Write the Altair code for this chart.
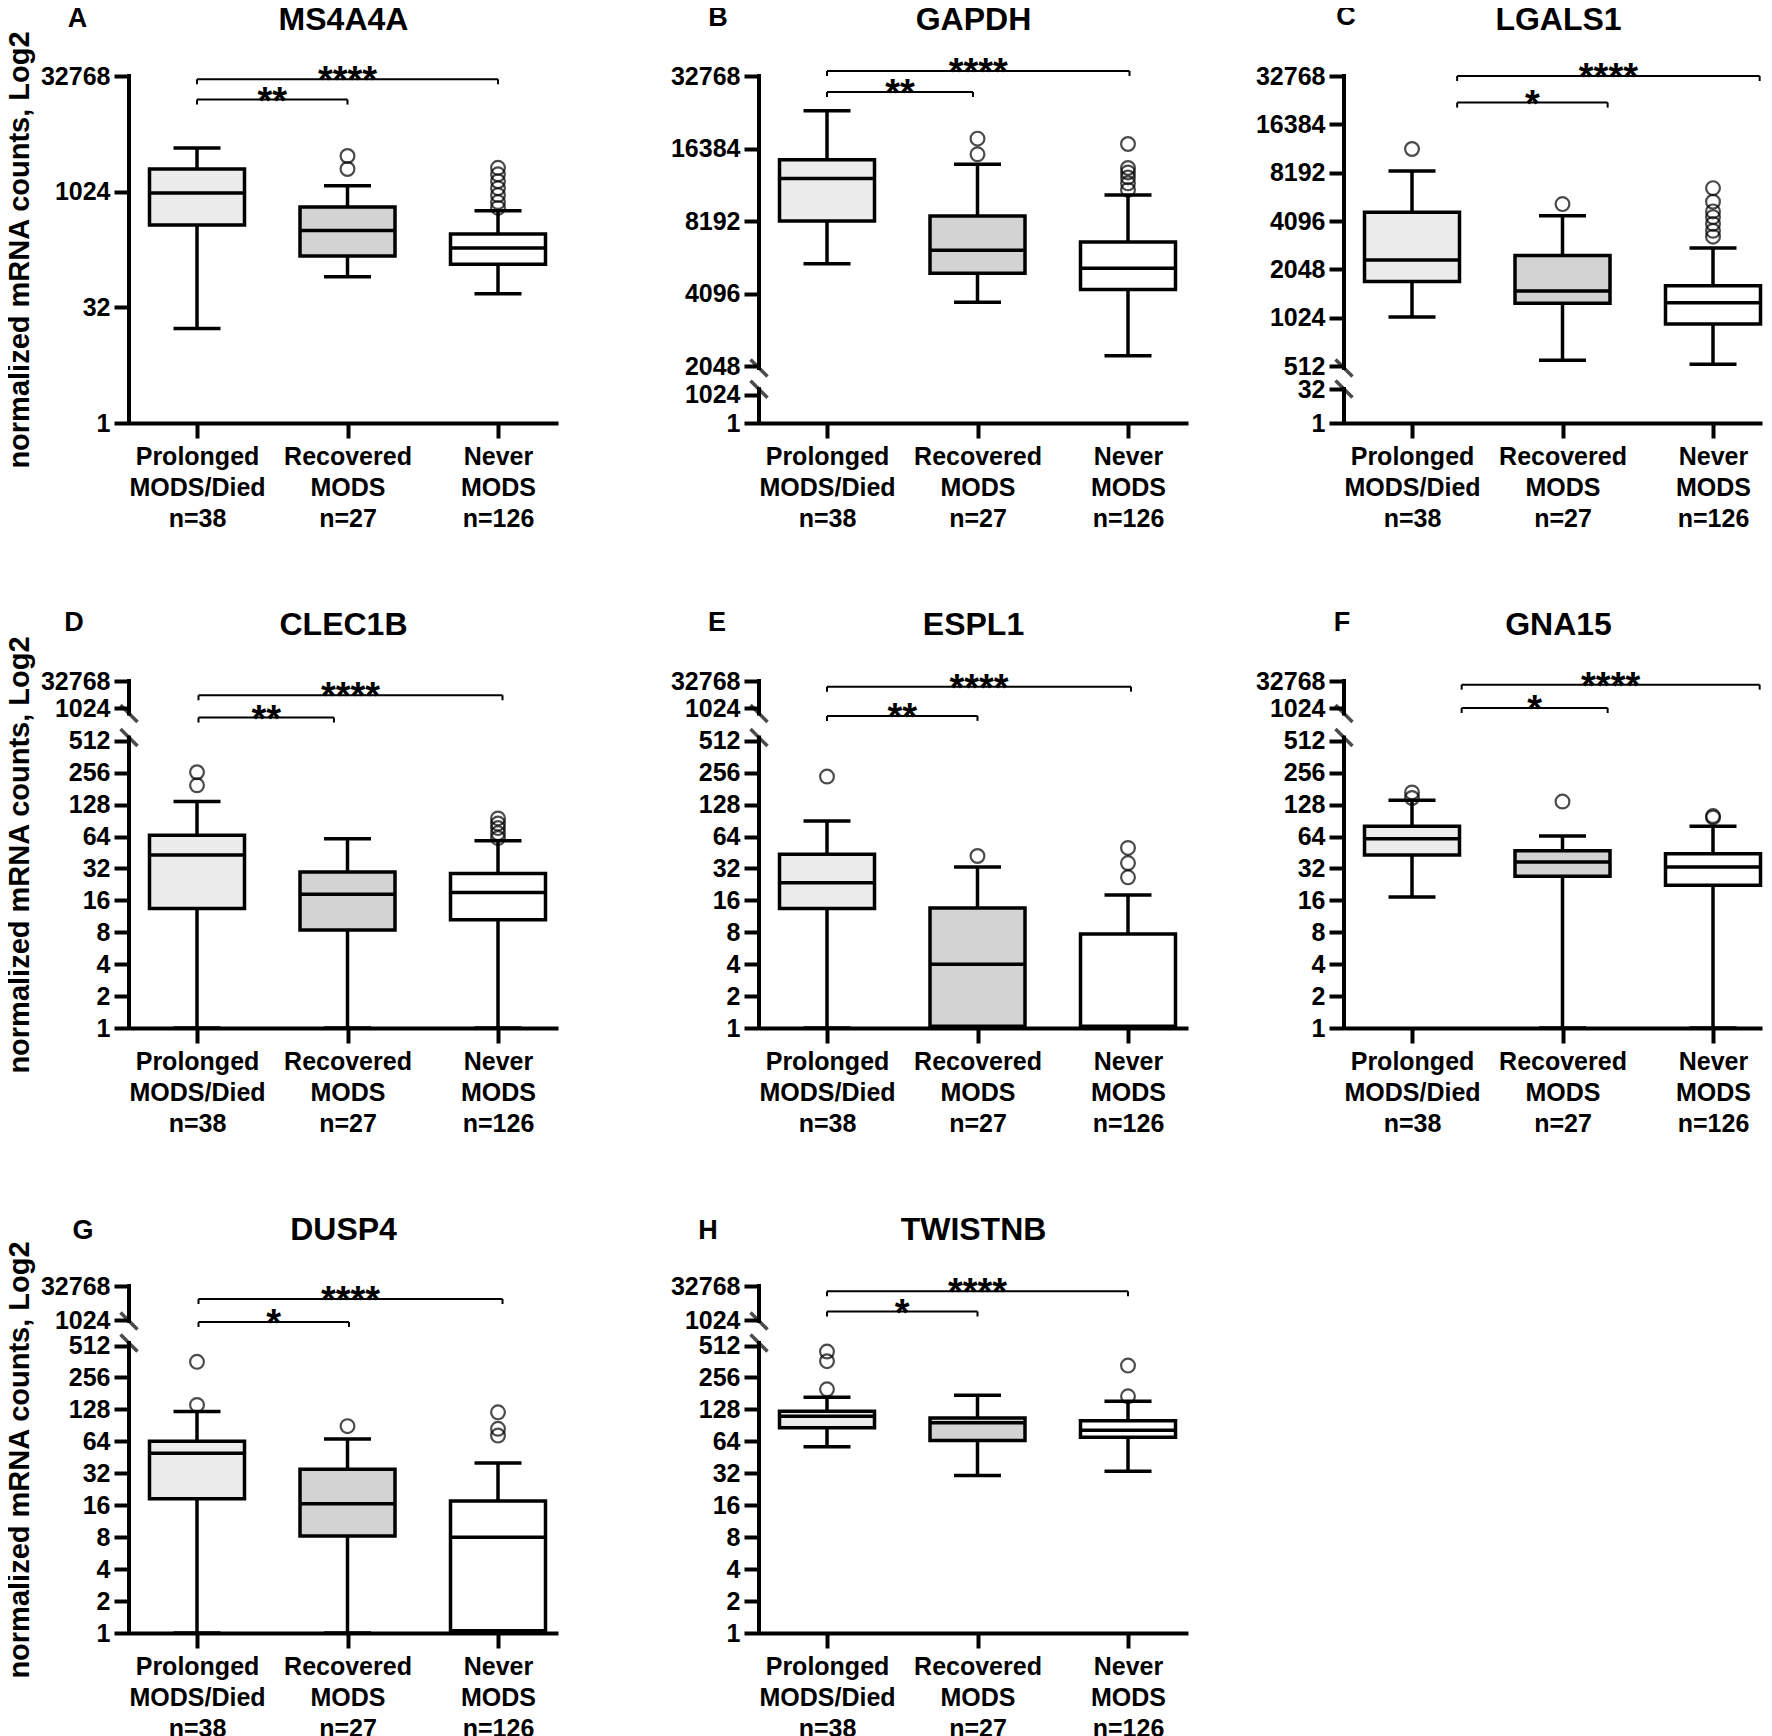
import math
import json
import altair as alt
import pandas as pd

FONT = "Liberation Sans"

# ---------------- data (normalized mRNA counts) ----------------
genes = ["MS4A4A", "GAPDH", "LGALS1", "CLEC1B", "ESPL1", "GNA15", "DUSP4", "TWISTNB"]
panel_letters = ["A", "B", "C", "D", "E", "F", "G", "H"]
group_names = ["Prolonged MODS/Died", "Recovered MODS", "Never MODS"]
group_label_lines = [["Prolonged", "MODS/Died", "n=38"],
                     ["Recovered", "MODS", "n=27"],
                     ["Never", "MODS", "n=126"]]

whisker_low = {
    "MS4A4A": [17, 80, 48],
    "GAPDH": [5440, 3770, 2260],
    "LGALS1": [1035, 557, 525],
    "CLEC1B": [1, 1, 1],
    "ESPL1": [1, 1, 1],
    "GNA15": [17.2, 1, 1],
    "DUSP4": [1, 1, 1],
    "TWISTNB": [57, 30.5, 33.4],
}
q1 = {
    "MS4A4A": [377, 149, 116],
    "GAPDH": [8190, 4970, 4260],
    "LGALS1": [1720, 1260, 935],
    "CLEC1B": [13.4, 8.4, 10.5],
    "ESPL1": [13.4, 1.04, 1.04],
    "GNA15": [43, 27, 22.2],
    "DUSP4": [18.4, 8.2, 1.05],
    "TWISTNB": [86, 65.3, 70],
}
median = {
    "MS4A4A": [985, 321, 189],
    "GAPDH": [12300, 6200, 5220],
    "LGALS1": [2340, 1500, 1270],
    "CLEC1B": [43, 18.3, 19],
    "ESPL1": [23.5, 4.0, 1.0],
    "GNA15": [61, 36.8, 33],
    "DUSP4": [49.4, 16.5, 8.0],
    "TWISTNB": [110, 96, 81.6],
}
q3 = {
    "MS4A4A": [2020, 648, 288],
    "GAPDH": [14700, 8600, 6700],
    "LGALS1": [4640, 2500, 1620],
    "CLEC1B": [66, 29.6, 28.7],
    "ESPL1": [43.5, 13.6, 7.7],
    "GNA15": [80, 47, 44],
    "DUSP4": [64, 35, 17.5],
    "TWISTNB": [123, 106, 100],
}
whisker_high = {
    "MS4A4A": [3790, 1226, 580],
    "GAPDH": [23500, 14100, 10500],
    "LGALS1": [8400, 4420, 2780],
    "CLEC1B": [137, 61, 58.5],
    "ESPL1": [90, 33, 18],
    "GNA15": [141, 65, 80],
    "DUSP4": [122, 67.5, 40],
    "TWISTNB": [167, 174, 153],
}
outliers = {
    "MS4A4A": [[], [2020, 2980], [2090, 1722, 1399, 1136, 923, 750, 630]],
    "GAPDH": [[], [18000, 15500], [17100, 13600, 13030, 12420, 11740, 11030]],
    "LGALS1": [[11500], [5220], [6560, 5400, 4700, 4330, 3930, 3560, 3270]],
    "CLEC1B": [[259, 195], [], [95, 85, 77, 69, 62]],
    "ESPL1": [[236], [42], [50, 36, 26.4]],
    "GNA15": [[167, 148], [137], [100, 97]],
    "DUSP4": [[359, 141], [89], [120, 84, 72.5]],
    "TWISTNB": [[449, 364, 198], [], [331, 170]],
}
sig_short = ["**", "**", "*", "**", "**", "*", "*", "*"]
sig_long = ["****", "****", "****", "****", "****", "****", "****", "****"]

# y tick labels (counts) per panel
y_tick_counts = {
    "MS4A4A": [1, 32, 1024, 32768],
    "GAPDH": [1, 1024, 2048, 4096, 8192, 16384, 32768],
    "LGALS1": [1, 32, 512, 1024, 2048, 4096, 8192, 16384, 32768],
    "CLEC1B": [1, 2, 4, 8, 16, 32, 64, 128, 256, 512, 1024, 32768],
    "ESPL1": [1, 2, 4, 8, 16, 32, 64, 128, 256, 512, 1024, 32768],
    "GNA15": [1, 2, 4, 8, 16, 32, 64, 128, 256, 512, 1024, 32768],
    "DUSP4": [1, 2, 4, 8, 16, 32, 64, 128, 256, 512, 1024, 32768],
    "TWISTNB": [1, 2, 4, 8, 16, 32, 64, 128, 256, 512, 1024, 32768],
}

# ---------------- layout / styling ----------------
PLOT_H = 347
panel_width = [429, 429, 418, 429, 429, 418, 429, 429]
axis_extent = [92, 201, 156, 92, 201, 156, 92, 201]
group_offset_px = 68.0
group_step_px = 150.5
box_half = 47.5 / group_step_px
cap_half = 23.5 / group_step_px
box_fills = ["#ececec", "#d3d3d3", "#ffffff"]

# broken-axis piecewise mapping (log2 domain -> pixel range)
y_domain = {
    "MS4A4A": [0, 15], "GAPDH": [0, 10, 11, 15], "LGALS1": [0, 5, 9, 15],
    "CLEC1B": [0, 9, 10, 15], "ESPL1": [0, 9, 10, 15], "GNA15": [0, 9, 10, 15],
    "DUSP4": [0, 9, 10, 15], "TWISTNB": [0, 9, 10, 15],
}
y_range = {
    "MS4A4A": [347, 0], "GAPDH": [347, 318.6, 290, 0], "LGALS1": [347, 313.3, 290, 0],
    "CLEC1B": [347, 59.9, 27, 0], "ESPL1": [347, 59.9, 27, 0], "GNA15": [347, 59.9, 27, 0],
    "DUSP4": [347, 59.5, 34.2, 0], "TWISTNB": [347, 59.5, 34.2, 0],
}
# break slash positions (log2 units): [upper-end, lower-end]
break_pos = {
    "MS4A4A": [], "GAPDH": [10.93, 10.19], "LGALS1": [8.66, 5.05],
    "CLEC1B": [9.83, 9.1], "ESPL1": [9.83, 9.1], "GNA15": [9.83, 9.1],
    "DUSP4": [9.97, 9.1], "TWISTNB": [9.97, 9.1],
}
# bracket x (group-index units): start, short end, long end ; levels (log2): short, long
bracket_x = {
    "MS4A4A": [0, 1, 2], "GAPDH": [0, 0.97, 2.01], "LGALS1": [0.3, 1.3, 2.31],
    "CLEC1B": [0.01, 0.91, 2.03], "ESPL1": [0, 1.0, 2.02], "GNA15": [0.33, 1.3, 2.31],
    "DUSP4": [0.01, 1.01, 2.03], "TWISTNB": [0, 1.0, 2.0],
}
bracket_level = {
    "MS4A4A": [13.98, 14.86], "GAPDH": [14.78, 15.07], "LGALS1": [14.45, 15.0],
    "CLEC1B": [9.71, 12.36], "ESPL1": [9.76, 13.95], "GNA15": [10.0, 14.32],
    "DUSP4": [9.93, 13.1], "TWISTNB": [11.27, 14.25],
}
letter_pos = [(-51.5, -57), (-41, -58), (2, -59), (-55, -58), (-42, -58), (-2, -58), (-46, -55), (-51, -55)]
TITLE_X = 214.5
TITLE_Y = -56
Y_TITLE = "normalized mRNA counts, Log2"

xlabel_expr = json.dumps(group_label_lines) + "[datum.value]"


def make_panel(i):
    gene = genes[i]
    W = panel_width[i]
    xdom = [-group_offset_px / group_step_px, (W - group_offset_px) / group_step_px]
    xscale = alt.Scale(domain=xdom, nice=False, zero=False)
    yscale = alt.Scale(domain=y_domain[gene], range=y_range[gene], nice=False, zero=False)

    xaxis = alt.Axis(values=[0, 1, 2], labelExpr=xlabel_expr, title=None, grid=False,
                     domain=True, domainWidth=4, domainColor="black",
                     ticks=True, tickSize=15, tickWidth=4, tickColor="black",
                     labelFont=FONT, labelFontSize=25, labelFontWeight="bold", labelColor="black",
                     labelPadding=6, labelLineHeight=31, labelAngle=0,
                     labelOverlap=False, labelFlush=False)
    yargs = dict(values=[math.log2(v) for v in y_tick_counts[gene]],
                 labelExpr="format(pow(2, datum.value), 'd')",
                 grid=False, domain=False,
                 ticks=True, tickSize=15, tickWidth=4, tickColor="black",
                 labelFont=FONT, labelFontSize=25, labelFontWeight="bold", labelColor="black",
                 labelPadding=4, labelOverlap=False, labelFlush=False,
                 minExtent=axis_extent[i], maxExtent=axis_extent[i])
    if i % 3 == 0:
        yaxis = alt.Axis(title=Y_TITLE, titleFont=FONT, titleFontSize=29, titleFontWeight="bold",
                         titleColor="black", titlePadding=3, **yargs)
    else:
        yaxis = alt.Axis(title=None, **yargs)

    def X(f):
        return alt.X(f, scale=xscale, axis=xaxis)

    def Y(f):
        return alt.Y(f, scale=yscale, axis=yaxis)

    box_df = pd.DataFrame({
        "g": [0, 1, 2],
        "low": whisker_low[gene], "q1": q1[gene], "med": median[gene],
        "q3": q3[gene], "high": whisker_high[gene],
    })
    base = alt.Chart(box_df).transform_calculate(
        l_low="log(datum.low)/LN2", l_q1="log(datum.q1)/LN2", l_med="log(datum.med)/LN2",
        l_q3="log(datum.q3)/LN2", l_high="log(datum.high)/LN2",
        bx1=f"datum.g - {box_half}", bx2=f"datum.g + {box_half}",
        cx1=f"datum.g - {cap_half}", cx2=f"datum.g + {cap_half}",
    )
    boxes = base.mark_rect(stroke="black", strokeWidth=3.5).encode(
        x=X("bx1:Q"), x2="bx2:Q", y=Y("l_q1:Q"), y2="l_q3:Q",
        fill=alt.Fill("g:O", scale=alt.Scale(domain=[0, 1, 2], range=box_fills), legend=None),
    )
    w_lo = base.mark_rule(color="black", strokeWidth=3.5).encode(x=X("g:Q"), y=Y("l_low:Q"), y2="l_q1:Q")
    w_hi = base.mark_rule(color="black", strokeWidth=3.5).encode(x=X("g:Q"), y=Y("l_q3:Q"), y2="l_high:Q")
    cap_lo = base.mark_rule(color="black", strokeWidth=3.5).encode(x=X("cx1:Q"), x2="cx2:Q", y=Y("l_low:Q"))
    cap_hi = base.mark_rule(color="black", strokeWidth=3.5).encode(x=X("cx1:Q"), x2="cx2:Q", y=Y("l_high:Q"))
    med = base.mark_rule(color="black", strokeWidth=3.5).encode(x=X("bx1:Q"), x2="bx2:Q", y=Y("l_med:Q"))

    out_rows = [{"g": g, "v": v} for g in range(3) for v in outliers[gene][g]]
    out_df = pd.DataFrame(out_rows if out_rows else [{"g": 0, "v": None}])
    outs = alt.Chart(out_df).transform_filter("datum.v != null").transform_calculate(
        lv="log(datum.v)/LN2").mark_point(shape="circle", filled=False, color="black").encode(
        x=X("g:Q"), y=Y("lv:Q"),
        strokeWidth=alt.StrokeWidth("g:O", scale=alt.Scale(domain=[0, 1, 2], range=[2.2, 2.2, 3.6]), legend=None),
        size=alt.Size("g:O", scale=alt.Scale(domain=[0, 1, 2], range=[190, 190, 165]), legend=None),
    )

    bp = break_pos[gene]
    if bp:
        seg_df = pd.DataFrame({"a": [15, bp[1]], "b": [bp[0], 0]})
    else:
        seg_df = pd.DataFrame({"a": [15], "b": [0]})
    segs = alt.Chart(seg_df).mark_rule(color="black", strokeWidth=4, strokeCap="square").encode(
        x=alt.value(0), y=Y("a:Q"), y2="b:Q")
    layers = [boxes, w_lo, w_hi, cap_lo, cap_hi, med, outs, segs]
    if bp:
        sl = alt.Chart(pd.DataFrame({"s": bp})).mark_point(
            shape="M -1 -1 L 1 1", size=289, filled=False, color="black", strokeWidth=3.5).encode(
            x=alt.value(0), y=Y("s:Q"))
        layers.append(sl)

    bx = bracket_x[gene]
    bl = bracket_level[gene]
    br_df = pd.DataFrame({"xs": [bx[0], bx[0]], "xe": [bx[1], bx[2]], "lvl": bl,
                          "txt": [sig_short[i], sig_long[i]]})
    brk = alt.Chart(br_df).mark_rule(color="black", strokeWidth=2).encode(
        x=X("xs:Q"), x2="xe:Q", y=Y("lvl:Q"))
    tick_df = pd.DataFrame({"xp": [bx[0], bx[1], bx[0], bx[2]], "lvl": [bl[0], bl[0], bl[1], bl[1]]})
    brk_t = alt.Chart(tick_df).mark_rule(color="black", strokeWidth=2, y2Offset=5).encode(
        x=X("xp:Q"), y=Y("lvl:Q"), y2="lvl:Q")
    sig = alt.Chart(br_df).transform_calculate(xm="(datum.xs + datum.xe) / 2").mark_text(
        font=FONT, fontSize=38, fontWeight="bold", color="black", align="center",
        baseline="alphabetic", dy=14).encode(x=X("xm:Q"), y=Y("lvl:Q"), text="txt:N")
    layers += [brk, brk_t, sig]

    lx, ly = letter_pos[i]
    letter = alt.Chart(pd.DataFrame({"t": [panel_letters[i]]})).mark_text(
        font=FONT, fontSize=27, fontWeight="bold", color="black", align="center", baseline="middle").encode(
        x=alt.value(lx), y=alt.value(ly), text="t:N")
    title = alt.Chart(pd.DataFrame({"t": [gene]})).mark_text(
        font=FONT, fontSize=32, fontWeight="bold", color="black", align="center", baseline="middle").encode(
        x=alt.value(TITLE_X), y=alt.value(TITLE_Y), text="t:N")
    layers += [letter, title]

    return alt.layer(*layers).properties(width=W, height=PLOT_H)


panels = [make_panel(i) for i in range(len(genes))]

chart = alt.concat(*panels, columns=3, spacing={"row": 78, "column": 0},
                   align="each", bounds="full").properties(
    padding={"left": -3, "top": -5, "right": 0, "bottom": 0}
).configure(font=FONT).configure_view(stroke=None)

chart.save("out.html", embed_options={"renderer": "svg", "actions": False})
